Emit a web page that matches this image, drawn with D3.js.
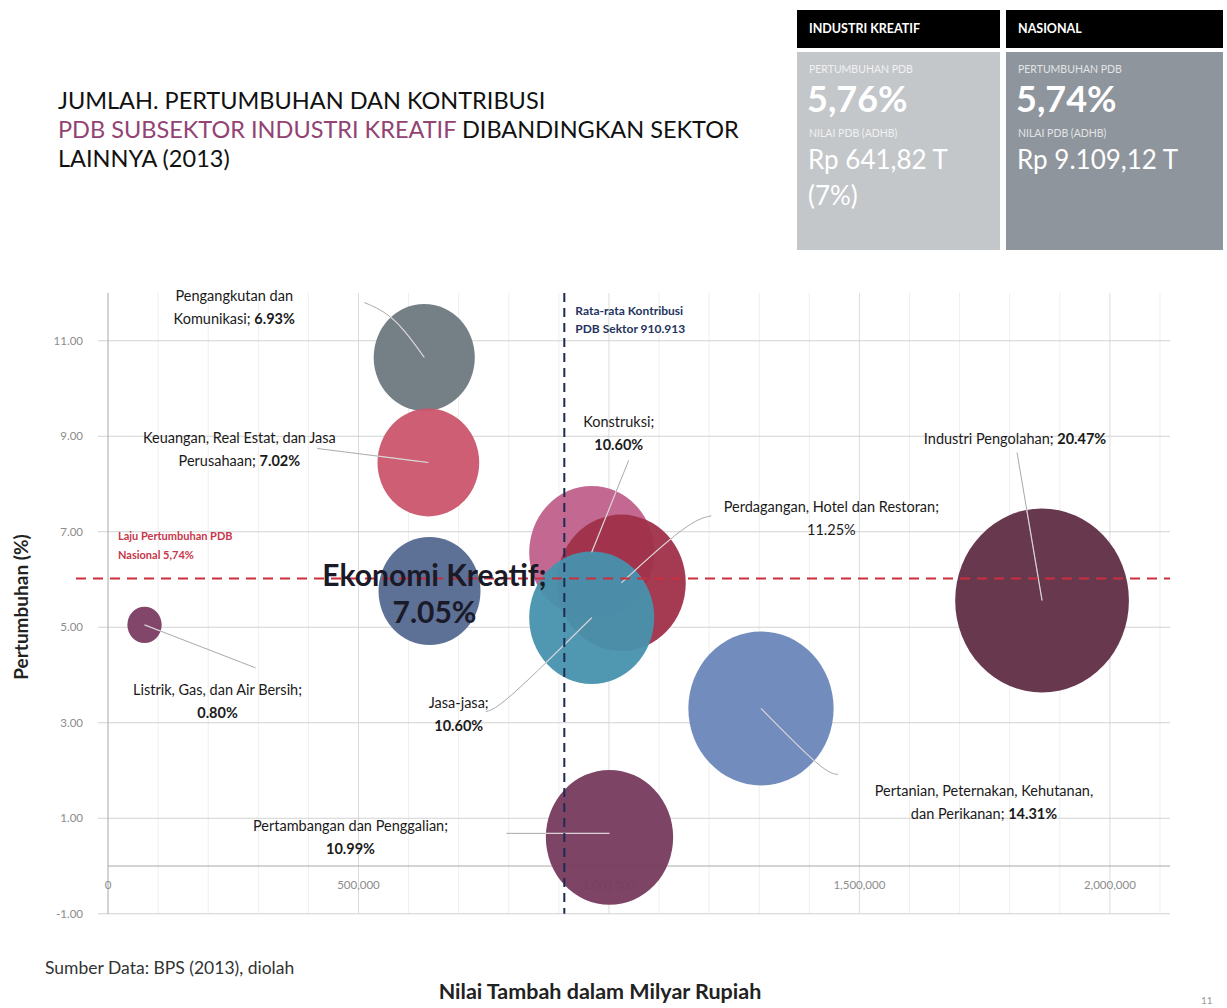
<!DOCTYPE html>
<html>
<head>
<meta charset="utf-8">
<script src="https://cdn.jsdelivr.net/npm/d3@7"></script>
<style>
  body { margin: 0; background: #fff; }
  svg { display: block; font-family: Lato, "Open Sans", sans-serif; }
</style>
</head>
<body>
<div id="chart"></div>
<script>
// values
const sectors = ["Pertanian", "Pertambangan", "Industri", "Listrik", "Konstruksi",
  "Perdagangan", "Pengangkutan", "Keuangan", "Jasa", "Ekonomi Kreatif"];
const nilaiTambah = [1303500, 1001100, 1864600, 72900, 965600, 1024800, 631300, 639500, 965600, 641820];
const pertumbuhan = [3.30, 0.60, 5.56, 5.05, 6.57, 5.93, 10.65, 8.45, 5.20, 5.76];
const kontribusi = [14.31, 10.99, 20.47, 0.80, 10.60, 11.25, 6.93, 7.02, 10.60, 7.05];

// label text, "{p}" = bold share, "{q}" = plain share
const labelLines = [
  ["Pertanian, Peternakan, Kehutanan,", "dan Perikanan; {p}"],
  ["Pertambangan dan Penggalian;", "{p}"],
  ["Industri Pengolahan; {p}"],
  ["Listrik, Gas, dan Air Bersih;", "{p}"],
  ["Konstruksi;", "{p}"],
  ["Perdagangan, Hotel dan Restoran;", "{q}"],
  ["Pengangkutan dan", "Komunikasi; {p}"],
  ["Keuangan, Real Estat, dan Jasa", "Perusahaan; {p}"],
  ["Jasa-jasa;", "{p}"],
  ["Ekonomi Kreatif;", "{p}"]
];

const yTicks = [-1, 1, 3, 5, 7, 9, 11];
const xTicks = [0, 500000, 1000000, 1500000, 2000000];
const rataRata = 910913;
const garisLaju = 6.02; // where the red dashed line sits in the picture

const boxTitles = ["INDUSTRI KREATIF", "NASIONAL"];
const boxGrowth = ["5,76%", "5,74%"];
const boxValues = [["Rp 641,82 T", "(7%)"], ["Rp 9.109,12 T"]];

// ---- styles / layout (not data) ----
const bubbleColors = ["#6a87b9", "#773a5e", "#5f2d45", "#7b3c62", "#c0608a",
  "#a0304a", "#6d7880", "#ca556b", "#4792ad", "#54688f"];
// label anchor offsets from bubble centre (px), and leader points
const labelOffset = [[223, 88], [-259, -6], [-27, -157], [73, 70], [27, -125],
  [210, -71], [-190, -56], [-189, -20], [-133, 90], [5, -5]];
const leaderPts = [
  [[77, 66], [63, 64], [0, 0]],
  [[-103, -4], [0, -4]],
  [[-25, -148], [0, 0]],
  [[111, 43], [0, 0]],
  [[37, -92], [0, 0]],
  [[90, -67], [68, -62], [0, 0]],
  [[-60, -55], [-30, -42], [0, 0]],
  [[-111, -14], [-79, -10], [0, 0]],
  [[-106, 94], [-90, 89], [0, 0]],
  null
];
const stretch = 1.06; // bubbles are a bit taller than wide in the picture

const W = 1227, H = 1008;
const svg = d3.select('#chart').append('svg')
  .attr('width', W)
  .attr('height', H);

const x = d3.scaleLinear().domain([0, 2120000]).range([108, 1170]);
const y = d3.scaleLinear().domain([-1, 12]).range([913.75, 293]);
const r = d3.scaleSqrt().domain([0, 1]).range([0, 19.2]);

const data = sectors.map((s, i) => ({
  key: s,
  x: nilaiTambah[i],
  y: pertumbuhan[i],
  size: kontribusi[i],
  i: i
}));

// title
const title = svg.append('text')
  .attr('font-size', 23.5)
  .attr('fill', '#111');
title.append('tspan').attr('x', 58).attr('y', 109).text('JUMLAH. PERTUMBUHAN DAN KONTRIBUSI');
const t2 = title.append('tspan').attr('x', 58).attr('y', 138);
t2.append('tspan').attr('fill', '#934274').text('PDB SUBSEKTOR INDUSTRI KREATIF');
t2.append('tspan').text(' DIBANDINGKAN SEKTOR');
title.append('tspan').attr('x', 58).attr('y', 167).text('LAINNYA (2013)');

// summary boxes
const boxX = [797, 1006];
const boxW = [203, 217];
const boxFill = ['#c4c7ca', '#8e959c'];
boxTitles.forEach((t, i) => {
  const g = svg.append('g').attr('transform', `translate(${boxX[i]},0)`);
  g.append('rect').attr('x', 0).attr('y', 10).attr('width', boxW[i]).attr('height', 38).attr('fill', '#000');
  g.append('rect').attr('x', 0).attr('y', 52).attr('width', boxW[i]).attr('height', 198).attr('fill', boxFill[i]);
  g.append('text').attr('x', 12).attr('y', 33).attr('fill', '#fff')
    .attr('font-size', 12.5).attr('font-weight', 'bold').text(t);
  g.append('text').attr('x', 12).attr('y', 73).attr('fill', '#fff').attr('opacity', 0.75)
    .attr('font-size', 10.5).text('PERTUMBUHAN PDB');
  g.append('text').attr('x', 10).attr('y', 112).attr('fill', '#fff')
    .attr('font-size', 36).attr('font-weight', 'bold').text(boxGrowth[i]);
  g.append('text').attr('x', 12).attr('y', 137).attr('fill', '#fff').attr('opacity', 0.75)
    .attr('font-size', 10.5).text('NILAI PDB (ADHB)');
  boxValues[i].forEach((v, j) => {
    g.append('text').attr('x', 11).attr('y', 169 + j * 36).attr('fill', '#fff')
      .attr('font-size', 26).text(v);
  });
});

const plot = svg.append('g');

// gridlines
plot.selectAll('.vminor')
  .data(d3.range(100000, 2120000, 100000))
  .enter().append('line')
  .attr('x1', d => x(d)).attr('x2', d => x(d))
  .attr('y1', y(12)).attr('y2', y(-1))
  .attr('stroke', d => d % 500000 === 0 ? '#dcdcdc' : '#eeeeee')
  .attr('stroke-width', 1);

plot.selectAll('.hgrid')
  .data(yTicks)
  .enter().append('line')
  .attr('x1', x(0) - 10).attr('x2', x.range()[1])
  .attr('y1', d => y(d)).attr('y2', d => y(d))
  .attr('stroke', '#d2d2d2');

plot.append('line')
  .attr('x1', x(0)).attr('x2', x(0))
  .attr('y1', y(12)).attr('y2', y(-1))
  .attr('stroke', '#a8a8a8');
plot.append('line')
  .attr('x1', x(0)).attr('x2', x.range()[1])
  .attr('y1', y(0)).attr('y2', y(0))
  .attr('stroke', '#a8a8a8');

// tick labels
plot.selectAll('.ylab')
  .data(yTicks)
  .enter().append('text')
  .attr('x', x(0) - 25)
  .attr('y', d => y(d) + 4)
  .attr('text-anchor', 'end')
  .attr('font-size', 11.5)
  .attr('fill', '#8c8c8c')
  .text(d => d3.format('.2f')(d).replace('−', '-'));

plot.selectAll('.xlab')
  .data(xTicks)
  .enter().append('text')
  .attr('x', d => x(d))
  .attr('y', y(0) + 23)
  .attr('text-anchor', 'middle')
  .attr('font-size', 11.5)
  .attr('fill', '#8c8c8c')
  .text(d => d3.format(',')(d));

// bubbles
const defs = svg.append('defs');
data.forEach(d => {
  defs.append('clipPath').attr('id', 'clip' + d.i)
    .append('ellipse')
    .attr('cx', x(d.x)).attr('cy', y(d.y))
    .attr('rx', r(d.size)).attr('ry', r(d.size) * stretch);
});

plot.selectAll('.bubble')
  .data(data)
  .enter().append('ellipse')
  .attr('cx', d => x(d.x))
  .attr('cy', d => y(d.y))
  .attr('rx', d => r(d.size))
  .attr('ry', d => r(d.size) * stretch)
  .attr('fill', d => bubbleColors[d.i])
  .attr('fill-opacity', 0.95);

// leader lines
const line = d3.line().curve(d3.curveBasis);
data.forEach(d => {
  const pts = leaderPts[d.i];
  if (!pts) return;
  const cx = x(d.x), cy = y(d.y);
  const p = pts.map(q => [cx + q[0], cy + q[1]]);
  plot.append('path').attr('d', line(p))
    .attr('fill', 'none').attr('stroke', '#a9a9a9').attr('stroke-width', 1);
  plot.append('path').attr('d', line(p))
    .attr('clip-path', `url(#clip${d.i})`)
    .attr('fill', 'none').attr('stroke', '#ece2e6').attr('stroke-opacity', 0.75).attr('stroke-width', 1.2);
});

// reference lines
plot.append('line')
  .attr('x1', x(0) - 32).attr('x2', x.range()[1])
  .attr('y1', y(garisLaju)).attr('y2', y(garisLaju))
  .attr('stroke', '#cc2f3c').attr('stroke-width', 2)
  .attr('stroke-dasharray', '10,7');

plot.append('line')
  .attr('x1', x(rataRata)).attr('x2', x(rataRata))
  .attr('y1', y(12)).attr('y2', y(-1))
  .attr('stroke', '#1d2b52').attr('stroke-width', 2)
  .attr('stroke-dasharray', '9,6');

plot.append('text')
  .attr('font-size', 11).attr('font-weight', 'bold').attr('fill', '#c8364a')
  .selectAll('tspan')
  .data(['Laju Pertumbuhan PDB', 'Nasional 5,74%'])
  .enter().append('tspan')
  .attr('x', x(0) + 10)
  .attr('y', (d, j) => y(7) + 8 + j * 19)
  .text(d => d);

plot.append('text')
  .attr('font-size', 12).attr('font-weight', 'bold').attr('fill', '#24345e')
  .selectAll('tspan')
  .data(['Rata-rata Kontribusi', 'PDB Sektor 910.913'])
  .enter().append('tspan')
  .attr('x', x(rataRata) + 11)
  .attr('y', (d, j) => y(11) - 26 + j * 18)
  .text(d => d);

// bubble labels
data.forEach(d => {
  const cx = x(d.x) + labelOffset[d.i][0];
  const cy = y(d.y) + labelOffset[d.i][1];
  const big = d.key === 'Ekonomi Kreatif';
  const pct = d3.format('.2f')(d.size) + '%';
  const t = plot.append('text')
    .attr('text-anchor', 'middle')
    .attr('font-size', big ? 30 : 14.5)
    .attr('font-weight', big ? 'bold' : 'normal')
    .attr('fill', big ? '#1a1a28' : '#1a1a1a');
  labelLines[d.i].forEach((ln, j) => {
    const row = t.append('tspan').attr('x', cx).attr('y', cy + j * (big ? 37 : 23));
    const parts = ln.split(/(\{p\}|\{q\})/);
    parts.forEach(part => {
      if (part === '') return;
      if (part === '{p}') row.append('tspan').attr('font-weight', 'bold').text(pct);
      else if (part === '{q}') row.append('tspan').text(pct);
      else row.append('tspan').text(part);
    });
  });
});

// axis titles & source
svg.append('text')
  .attr('transform', 'translate(28,607) rotate(-90)')
  .attr('text-anchor', 'middle')
  .attr('font-size', 19).attr('font-weight', 'bold').attr('fill', '#222')
  .text('Pertumbuhan (%)');

svg.append('text')
  .attr('x', 600).attr('y', 999)
  .attr('text-anchor', 'middle')
  .attr('font-size', 21.5).attr('font-weight', 'bold').attr('fill', '#222')
  .text('Nilai Tambah dalam Milyar Rupiah');

svg.append('text')
  .attr('x', 45).attr('y', 974)
  .attr('font-size', 17.5).attr('fill', '#333')
  .text('Sumber Data: BPS (2013), diolah');

svg.append('text')
  .attr('x', 1201).attr('y', 1004)
  .attr('font-size', 10).attr('fill', '#999')
  .text('11');
</script>
</body>
</html>
